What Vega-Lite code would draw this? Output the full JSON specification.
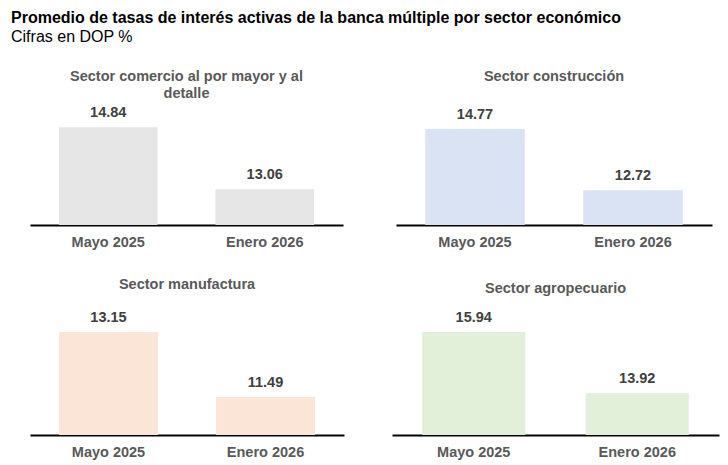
{
  "$schema": "https://vega.github.io/schema/vega-lite/v6.json",
  "padding": {"left": 11, "top": 9, "right": 5, "bottom": 5},
  "background": "white",
  "title": {
    "text": "Promedio de tasas de interés activas de la banca múltiple por sector económico",
    "subtitle": "Cifras en DOP %",
    "anchor": "start",
    "dx": -19,
    "fontSize": 16,
    "fontWeight": "bold",
    "color": "#000000",
    "subtitleFontSize": 16,
    "subtitleColor": "#000000",
    "subtitlePadding": 3,
    "offset": 24
  },
  "datasets": {
    "tasas": [
      {"sector": "comercio", "periodo": "Mayo 2025", "valor": 14.84},
      {"sector": "comercio", "periodo": "Enero 2026", "valor": 13.06},
      {"sector": "construccion", "periodo": "Mayo 2025", "valor": 14.77},
      {"sector": "construccion", "periodo": "Enero 2026", "valor": 12.72},
      {"sector": "manufactura", "periodo": "Mayo 2025", "valor": 13.15},
      {"sector": "manufactura", "periodo": "Enero 2026", "valor": 11.49},
      {"sector": "agropecuario", "periodo": "Mayo 2025", "valor": 15.94},
      {"sector": "agropecuario", "periodo": "Enero 2026", "valor": 13.92}
    ]
  },
  "data": {"name": "tasas"},
  "spacing": 27,
  "vconcat": [
    {
      "spacing": 53,
      "hconcat": [
        {
          "width": 313,
          "height": 120,
          "title": {"text": ["Sector comercio al por mayor y al", "detalle"], "offset": 4},
          "transform": [{"filter": "datum.sector === 'comercio'"}],
          "encoding": {
            "x": {"field": "periodo", "type": "nominal", "sort": ["Mayo 2025", "Enero 2026"], "scale": {"paddingInner": 0.37, "paddingOuter": 0.185}},
            "y": {"field": "valor", "type": "quantitative", "scale": {"domain": [12.03, 15.48]}, "axis": null}
          },
          "layer": [
            {"mark": {"type": "bar", "color": "#e7e6e6"}, "encoding": {"y2": {"datum": 12.03}}},
            {"mark": {"type": "text", "dy": -14}, "encoding": {"text": {"field": "valor", "type": "quantitative", "format": ".2f"}}}
          ]
        },
        {
          "width": 316,
          "height": 120,
          "title": {"text": ["Sector construcción", " "], "offset": 4},
          "transform": [{"filter": "datum.sector === 'construccion'"}],
          "encoding": {
            "x": {"field": "periodo", "type": "nominal", "sort": ["Mayo 2025", "Enero 2026"], "scale": {"paddingInner": 0.37, "paddingOuter": 0.185}},
            "y": {"field": "valor", "type": "quantitative", "scale": {"domain": [11.55, 15.58]}, "axis": null}
          },
          "layer": [
            {"mark": {"type": "bar", "color": "#dae3f3"}, "encoding": {"y2": {"datum": 11.55}}},
            {"mark": {"type": "text", "dy": -14}, "encoding": {"text": {"field": "valor", "type": "quantitative", "format": ".2f"}}}
          ]
        }
      ]
    },
    {
      "spacing": 48,
      "hconcat": [
        {
          "width": 314,
          "height": 130,
          "title": {"text": "Sector manufactura", "offset": 13},
          "transform": [{"filter": "datum.sector === 'manufactura'"}],
          "encoding": {
            "x": {"field": "periodo", "type": "nominal", "sort": ["Mayo 2025", "Enero 2026"], "scale": {"paddingInner": 0.37, "paddingOuter": 0.185}},
            "y": {"field": "valor", "type": "quantitative", "scale": {"domain": [10.52, 13.84]}, "axis": null}
          },
          "layer": [
            {"mark": {"type": "bar", "color": "#fbe5d6"}, "encoding": {"y2": {"datum": 10.52}}},
            {"mark": {"type": "text", "dy": -14}, "encoding": {"text": {"field": "valor", "type": "quantitative", "format": ".2f"}}}
          ]
        },
        {
          "width": 327,
          "height": 130,
          "title": {"text": "Sector agropecuario", "offset": 9},
          "transform": [{"filter": "datum.sector === 'agropecuario'"}],
          "encoding": {
            "x": {"field": "periodo", "type": "nominal", "sort": ["Mayo 2025", "Enero 2026"], "scale": {"paddingInner": 0.37, "paddingOuter": 0.185}},
            "y": {"field": "valor", "type": "quantitative", "scale": {"domain": [12.53, 16.83]}, "axis": null}
          },
          "layer": [
            {"mark": {"type": "bar", "color": "#e2f0d9"}, "encoding": {"y2": {"datum": 12.53}}},
            {"mark": {"type": "text", "dy": -14}, "encoding": {"text": {"field": "valor", "type": "quantitative", "format": ".2f"}}}
          ]
        }
      ]
    }
  ],
  "config": {
    "font": "Liberation Sans",
    "view": {"stroke": null},
    "title": {"fontSize": 14.5, "fontWeight": "bold", "color": "#595959", "anchor": "middle", "offset": 8, "lineHeight": 17},
    "text": {"fontSize": 14.5, "fontWeight": "bold", "color": "#404040", "font": "Liberation Sans"},
    "axisX": {
      "title": null,
      "labelAngle": 0,
      "labelFontSize": 14.5,
      "labelFontWeight": "bold",
      "labelColor": "#595959",
      "labelPadding": 10,
      "ticks": false,
      "domainColor": "#000000",
      "domainWidth": 2,
      "grid": false
    }
  }
}
